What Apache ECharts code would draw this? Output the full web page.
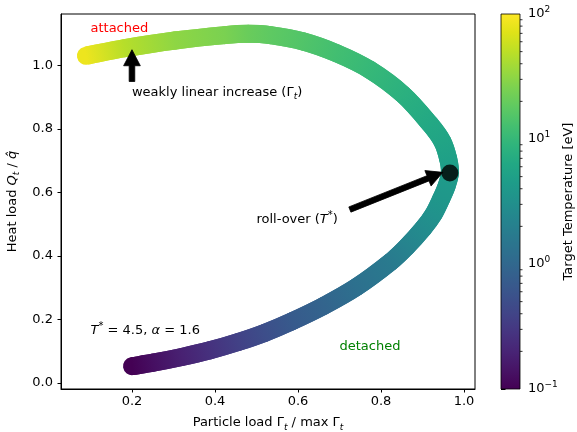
<!DOCTYPE html>
<html><head><meta charset="utf-8">
<script src="https://cdn.jsdelivr.net/npm/echarts@6/dist/echarts.min.js"></script>
<style>html,body{margin:0;padding:0;background:#fff}#c{width:577px;height:432px}</style>
</head><body><div id="c"></div>
<script>
// ---- data ----
const curveX = [0.200,0.251,0.320,0.388,0.456,0.520,0.585,0.661,0.741,0.822,0.862,0.902,0.926,0.945,0.958,0.966,0.962,0.948,0.918,0.854,0.773,0.693,0.613,0.533,0.480,0.424,0.304,0.183,0.089];
const curveY = [0.053,0.064,0.082,0.103,0.129,0.158,0.194,0.242,0.302,0.380,0.429,0.487,0.530,0.580,0.620,0.661,0.705,0.760,0.815,0.907,0.986,1.038,1.075,1.095,1.099,1.095,1.078,1.054,1.030];
const curveT = [0.10,0.132,0.186,0.263,0.372,0.508,0.692,0.912,1.25,1.70,2.16,2.75,3.30,3.76,4.10,4.5,5.0,5.7,6.4,7.94,10.0,12.1,14.9,17.8,20.4,25.1,30.9,46.8,83];
const rollover = [0.966, 0.661];
const xTicks = [0.2,0.4,0.6,0.8,1.0];
const yTicks = [0.0,0.2,0.4,0.6,0.8,1.0];
const cbRange = [0.1, 100];
const annTexts = ['attached','weakly linear increase (Γ{sub|t})','roll-over ({i|T}{sup|*})','{i|T}{sup|*} = 4.5, {i|α} = 1.6','detached'];
const annX = [0.1, 0.2, 0.5, 0.1, 0.7];
const annY = [1.1, 0.9, 0.5, 0.15, 0.1];
const annColors = ['#ff0000','#000000','#000000','#000000','#008000'];
const arrowFrom = [[0.2, 0.949],[0.725, 0.546]];
const arrowTo = [[0.2, 1.049],[0.949, 0.663]];

// ---- helpers ----
const FONT = 'DejaVu Sans';
const BAND = 18;
const VIR = ['#440154','#471365','#482475','#463480','#414487','#3b528b','#355f8d','#2f6c8e','#2a788e','#25848e','#21918c','#1e9c89','#22a884','#2fb47c','#44bf70','#5ec962','#7ad151','#9bd93c','#bddf26','#dfe318','#fde725'];
function hex(h){return [parseInt(h.substr(1,2),16),parseInt(h.substr(3,2),16),parseInt(h.substr(5,2),16)];}
function viridis(t){
  t = Math.max(0, Math.min(1, t));
  const f = t*(VIR.length-1); const i = Math.min(Math.floor(f), VIR.length-2); const u = f-i;
  const a = hex(VIR[i]), b = hex(VIR[i+1]);
  return 'rgb(' + a.map((v,k)=>Math.round(v+(b[k]-v)*u)).join(',') + ')';
}
function tNorm(T){return (Math.log10(T)-Math.log10(cbRange[0]))/(Math.log10(cbRange[1])-Math.log10(cbRange[0]));}

const rich = {
  sub:{fontSize:9, lineHeight:9, verticalAlign:'bottom', fontFamily:FONT, fontStyle:'italic'},
  i:{fontSize:13, fontStyle:'italic', fontFamily:FONT},
  sup:{fontSize:10, lineHeight:10, verticalAlign:'top', fontFamily:FONT}
};

const minorTicks = [];
for (let e=-1; e<2; e++) for (let k=2; k<10; k++) minorTicks.push(k*Math.pow(10,e));

const chart = echarts.init(document.getElementById('c'), null, {renderer:'canvas'});
const N = curveX.length;
const curveData = curveX.map((x,i)=>[x, curveY[i], curveT[i]]);

function unit(a, b){const dx=b[0]-a[0], dy=b[1]-a[1], L=Math.hypot(dx,dy)||1; return [dx/L, dy/L];}

function segment(api, i, cap){
  const P = k=>api.coord([curveX[Math.max(0,Math.min(N-1,k))], curveY[Math.max(0,Math.min(N-1,k))]]);
  const p0=P(i-1), p1=P(i), p2=P(i+1), p3=P(i+2);
  const m1 = unit(p0, p2), m2 = unit(p1, p3);
  const d = Math.hypot(p2[0]-p1[0], p2[1]-p1[1])/3;
  const c1 = viridis(tNorm(curveT[i])), c2 = viridis(tNorm(curveT[i+1]));
  return {type:'bezierCurve',
    shape:{x1:p1[0], y1:p1[1], x2:p2[0], y2:p2[1],
           cpx1:p1[0]+m1[0]*d, cpy1:p1[1]+m1[1]*d, cpx2:p2[0]-m2[0]*d, cpy2:p2[1]-m2[1]*d},
    style:{fill:null, lineWidth:BAND, lineCap:cap,
           stroke:new echarts.graphic.LinearGradient(p1[0],p1[1],p2[0],p2[1],[{offset:0,color:c1},{offset:1,color:c2}], true)}};
}

const option = {
  animation:false,
  backgroundColor:'#fff',
  textStyle:{fontFamily:FONT},
  grid:[
    {left:61, top:14, width:414, height:375, show:true, borderColor:'#000', borderWidth:1, backgroundColor:'transparent', outerBoundsMode:'none', containLabel:false},
    {left:501, top:14, width:19, height:375, outerBoundsMode:'none', containLabel:false}
  ],
  xAxis:[
    {gridIndex:0, type:'value', min:0.029, max:1.0265,
     axisLine:{show:true, onZero:false, lineStyle:{color:'#000', width:1}},
     axisTick:{show:true, length:3.5, lineStyle:{color:'#000', width:1}, customValues:xTicks},
     axisLabel:{customValues:xTicks, formatter:v=>v.toFixed(1), fontSize:13, color:'#000', margin:6, fontFamily:FONT},
     splitLine:{show:false},
     name:'Particle load Γ{sub|t} / max Γ{sub|t}', nameLocation:'middle', nameGap:25,
     nameTextStyle:{fontSize:13, color:'#000', lineHeight:18, fontFamily:FONT, rich:rich}},
    {gridIndex:1, type:'value', min:0, max:1, show:false}
  ],
  yAxis:[
    {gridIndex:0, type:'value', min:-0.0189, max:1.1615,
     axisLine:{show:true, onZero:false, lineStyle:{color:'#000', width:1}},
     axisTick:{show:true, length:3.5, lineStyle:{color:'#000', width:1}, customValues:yTicks},
     axisLabel:{customValues:yTicks, formatter:v=>v.toFixed(1), fontSize:13, color:'#000', margin:8, fontFamily:FONT},
     splitLine:{show:false},
     name:'Heat load {i|Q}{sub|t} / {i|q̂}', nameLocation:'middle', nameGap:34, nameRotate:90,
     nameTextStyle:{fontSize:13, color:'#000', lineHeight:18, fontFamily:FONT, rich:rich}},
    {gridIndex:1, type:'log', logBase:10, min:cbRange[0], max:cbRange[1], position:'right',
     axisLine:{show:false},
     axisTick:{show:true, length:4.5, lineStyle:{color:'#000', width:1}},
     axisLabel:{margin:8, color:'#000', fontSize:13, fontFamily:FONT,
       formatter:v=>{const e=Math.round(Math.log10(v)); return '{b|10}{s|'+(e<0?'−'+(-e):e)+'}';},
       rich:{b:{fontSize:13, lineHeight:18, fontFamily:FONT, color:'#000'}, s:{fontSize:9, lineHeight:9, verticalAlign:'top', fontFamily:FONT, color:'#000'}}},
     splitLine:{show:false},
     name:'Target Temperature [eV]', nameLocation:'middle', nameGap:40, nameRotate:90,
     nameTextStyle:{fontSize:13, color:'#000', fontFamily:FONT}}
  ],
  series:[
    {type:'custom', xAxisIndex:0, yAxisIndex:0, z:2, data:curveData, encode:{x:0, y:1},
     renderItem:function(params, api){
       const i = params.dataIndex;
       if (i >= N-1) return {type:'group', children:[]};
       return segment(api, i, 'round');
     }},
    {type:'custom', xAxisIndex:0, yAxisIndex:0, z:2, data:curveData, encode:{x:0, y:1},
     renderItem:function(params, api){
       const i = params.dataIndex;
       if (i >= N-1) return {type:'group', children:[]};
       return segment(api, i, 'butt');
     }},
    {type:'scatter', xAxisIndex:0, yAxisIndex:0, z:3, data:[rollover], symbol:'circle', symbolSize:17, itemStyle:{color:'#000'}},
    {type:'custom', xAxisIndex:0, yAxisIndex:0, z:4,
     data:arrowFrom.map((f,i)=>[f[0],f[1],arrowTo[i][0],arrowTo[i][1]]), encode:{x:[0,2], y:[1,3]},
     renderItem:function(params, api){
       const i = params.dataIndex;
       const t = api.coord(arrowFrom[i]), hh = api.coord(arrowTo[i]);
       const dx=hh[0]-t[0], dy=hh[1]-t[1], Ln=Math.hypot(dx,dy), ux=dx/Ln, uy=dy/Ln, nx=-uy, ny=ux;
       const sw=5.6/2, hw=16.7/2, hl=16;
       const bx=hh[0]-ux*hl, by=hh[1]-uy*hl;
       return {type:'polygon', shape:{points:[
         [t[0]+nx*sw, t[1]+ny*sw],[bx+nx*sw, by+ny*sw],[bx+nx*hw, by+ny*hw],[hh[0],hh[1]],
         [bx-nx*hw, by-ny*hw],[bx-nx*sw, by-ny*sw],[t[0]-nx*sw, t[1]-ny*sw]]},
         style:{fill:'#000', stroke:'#000', lineWidth:0.8}};
     }},
    {type:'custom', xAxisIndex:0, yAxisIndex:0, z:5,
     data:annX.map((x,i)=>[x, annY[i]]), encode:{x:0, y:1},
     renderItem:function(params, api){
       const i = params.dataIndex;
       const p = api.coord([annX[i], annY[i]]);
       return {type:'text', x:p[0], y:p[1]-4.5,
         style:{text:annTexts[i], fill:annColors[i], fontSize:13, fontFamily:FONT, lineHeight:18,
                align:'left', verticalAlign:'middle', rich:rich}};
     }},
    {type:'custom', xAxisIndex:1, yAxisIndex:1, z:2,
     data:[[0, cbRange[0], 1, cbRange[1]]], encode:{x:[0,2], y:[1,3]},
     renderItem:function(params, api){
       const a = api.coord([0, cbRange[1]]), b = api.coord([1, cbRange[0]]);
       const stops = VIR.map((c,k)=>({offset:1-k/(VIR.length-1), color:c})).reverse();
       return {type:'rect', shape:{x:a[0], y:a[1], width:b[0]-a[0], height:b[1]-a[1]},
         style:{fill:new echarts.graphic.LinearGradient(0,0,0,1,stops), stroke:'#000', lineWidth:0.8}};
     }},
    {type:'custom', xAxisIndex:1, yAxisIndex:1, z:3,
     data:minorTicks.map(v=>[1, v]), encode:{x:0, y:1},
     renderItem:function(params, api){
       const p = api.coord([1, minorTicks[params.dataIndex]]);
       return {type:'line', shape:{x1:p[0], y1:p[1], x2:p[0]+2.5, y2:p[1]}, style:{stroke:'#000', lineWidth:0.8}};
     }}
  ]
};
chart.setOption(option);
</script>
</body></html>
